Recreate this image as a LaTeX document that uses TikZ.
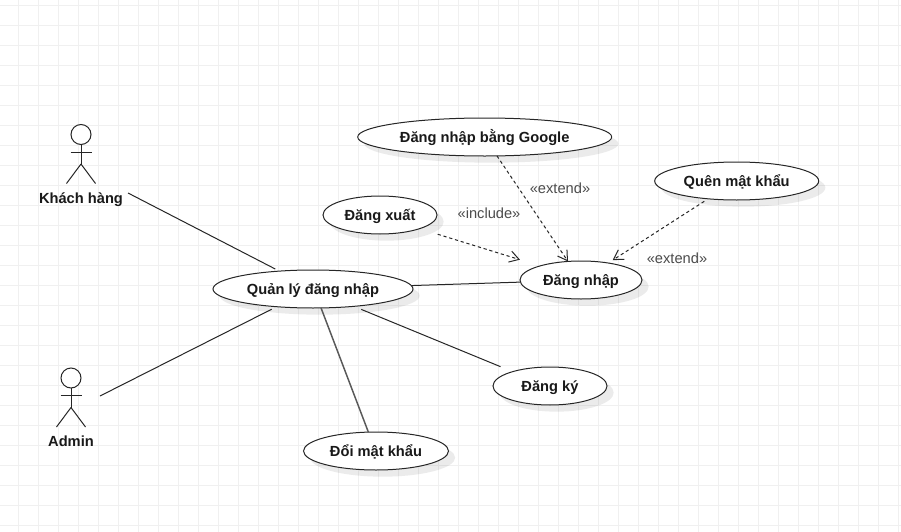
\documentclass[tikz,border=0pt]{standalone}
\usepackage{fontspec}
\setmainfont{Liberation Sans}
\usetikzlibrary{arrows.meta,shapes.geometric,shadows}

\tikzset{
  usecase/.style={ellipse,draw=black!85,fill=white,line width=0.75pt,inner sep=0pt,outer sep=0pt,
    minimum height=28.5pt,font=\bfseries\fontsize{11}{12}\selectfont,text=black!90,
    text height=9.25pt,text depth=1.75pt,
    drop shadow={shadow xshift=5pt,shadow yshift=-5pt,opacity=0.08,fill=black}},
  actorhead/.style={circle,draw=black!85,fill=white,line width=0.75pt,inner sep=0pt,outer sep=0pt,minimum size=15pt},
  actorname/.style={font=\bfseries\fontsize{11}{12}\selectfont,text=black!90,inner sep=0pt,
    text height=9pt,text depth=2pt},
  stereo/.style={font=\fontsize{11}{12}\selectfont,text=black!70,inner sep=0pt},
  assoc/.style={draw=black!85,line width=0.75pt},
  depend/.style={draw=black!85,line width=0.75pt,dashed,dash pattern=on 2.4pt off 2.1pt,
    -{Straight Barb[length=7pt,width=8.5pt,line width=0.75pt]}},
  gridline/.style={draw=black!6,line width=0.75pt}
}

\newcommand{\actorfig}[4]{% name, x, y of the head, label
  \node[actorhead] (#1head) at (#2,#3) {};
  \draw[assoc] (#1head.south) -- ++(0,19.5) coordinate (#1hip);
  \draw[assoc] (#2-10.5,#3+17.5) -- (#2+10.5,#3+17.5);
  \draw[assoc] (#1hip) -- ++(-14.5,19.5);
  \draw[assoc] (#1hip) -- ++(14.5,19.5);
  \node[actorname] (#1name) at (#2,#3+64) {#4};
}

\begin{document}
\begin{tikzpicture}[x=0.75pt,y=-0.75pt]
  \useasboundingbox (0,0) rectangle (901,532);
  \fill[white] (0,0) rectangle (901,532);

  % background grid
  \foreach \gx in {0,...,44} {
    \draw[gridline] (18.5+20*\gx,0) -- (18.5+20*\gx,532);
  }
  \foreach \gy in {0,...,26} {
    \draw[gridline] (0,5+20*\gy) -- (901,5+20*\gy);
  }

  % use cases
  \node[usecase,minimum width=190.5pt] (google) at (484.7,137) {Đăng nhập bằng Google};
  \node[usecase,minimum width=123pt] (quenmk) at (736.7,181) {Quên mật khẩu};
  \node[usecase,minimum width=85.5pt] (dangxuat) at (380,215) {Đăng xuất};
  \node[usecase,minimum width=91.5pt] (dangnhap) at (581,280) {Đăng nhập};
  \node[usecase,minimum width=150pt] (quanly) at (313,289) {Quản lý đăng nhập};
  \node[usecase,minimum width=85.5pt] (dangky) at (550,386) {Đăng ký};
  \node[usecase,minimum width=108.75pt] (doimk) at (376,451) {Đổi mật khẩu};

  % actors
  \actorfig{khach}{81}{134.5}{Khách hàng}
  \actorfig{admin}{71}{378}{Admin}
  \coordinate (khachend) at (128,193);
  \coordinate (adminend) at (100,396);

  % associations
  \draw[assoc,shorten >=3.4pt] (khachend) -- (quanly.152.1);
  \draw[assoc,shorten >=4.2pt] (adminend) -- (quanly.206.2);
  \draw[assoc] (quanly.2) -- (dangnhap.182);
  \draw[assoc,shorten <=6pt,shorten >=9.8pt] (quanly.337.7) -- (dangky.159.6);
  \draw[assoc,draw=black!65,line width=1.1pt] (quanly.293) -- (doimk.112.9);

  % dependencies
  \draw[depend] (google.303) -- (dangnhap.125);
  \draw[depend,shorten <=14.2pt,shorten >=15.8pt] (dangxuat.341.3) -- (dangnhap.161);
  \draw[depend,shorten <=3.5pt,shorten >=4pt] (quenmk.212.3) -- (dangnhap.32.7);

  \node[stereo] (extgoogle) at (560,188) {«extend»};
  \node[stereo] (incxuat) at (489,213) {«include»};
  \node[stereo] (extquen) at (677,258) {«extend»};
\end{tikzpicture}
\end{document}
